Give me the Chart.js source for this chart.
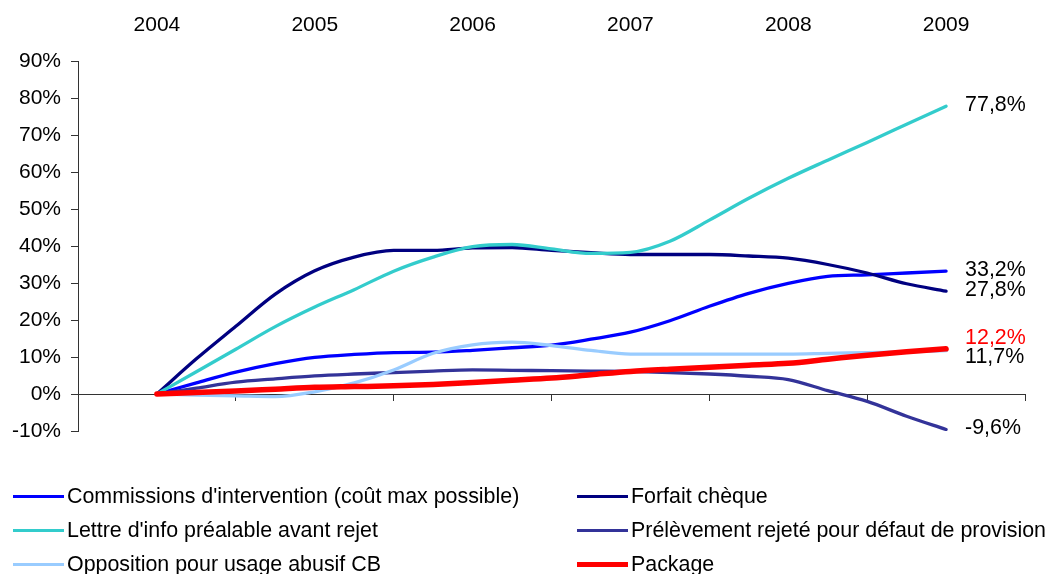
<!DOCTYPE html>
<html><head><meta charset="utf-8">
<script src="https://cdn.jsdelivr.net/npm/chart.js@4/dist/chart.umd.min.js"></script>
<style>
html,body{margin:0;padding:0;background:#fff;}
#wrap{position:relative;width:1053px;height:574px;overflow:hidden;font-family:"Liberation Sans",Arial,sans-serif;}
#c{position:absolute;left:0;top:0;}
.lg{position:absolute;font-size:21.4px;color:#000;white-space:nowrap;height:24px;line-height:24px;}
.lg .sw{position:absolute;left:0;width:51px;}
.lg .tx{position:absolute;left:54px;top:0;}
</style>
</head><body>
<div id="wrap"><canvas id="c" width="1053" height="574"></canvas><div id="legend"></div></div>
<script>
// ---- data (values in %) ----
const yearLabels = ['2004','2005','2006','2007','2008','2009'];
const years = [2004, 2005, 2006, 2007, 2008, 2009];
const quarters = [2004, 2004.25, 2004.5, 2004.75, 2005, 2005.25, 2005.5, 2005.75, 2006, 2006.25, 2006.5, 2006.75, 2007, 2007.25, 2007.5, 2007.75, 2008, 2008.25, 2008.5, 2008.75, 2009];
const seriesNames = [
  "Commissions d'intervention (coût max possible)",
  "Forfait chèque",
  "Lettre d'info préalable avant rejet",
  "Prélèvement rejeté pour défaut de provision",
  "Opposition pour usage abusif CB",
  "Package"
];
const commissions = [0, 3, 5.9, 8.2, 9.9, 10.7, 11.2, 11.3, 11.8, 12.5, 13.2, 14.8, 16.7, 19.8, 23.7, 27.2, 29.9, 31.8, 32.2, 32.7, 33.2];
const forfaitCheque = [0, 9.5, 18.3, 27, 33.3, 37, 38.8, 38.8, 39.5, 39.6, 38.8, 38.2, 37.7, 37.7, 37.7, 37.3, 36.7, 35, 32.7, 29.8, 27.8];
const lettreInfo = [0, 6, 12.1, 18.2, 23.5, 28.2, 33.2, 37, 39.8, 40.4, 39.2, 38, 38.3, 41.3, 47, 52.9, 58.3, 63.2, 68, 72.9, 77.8];
const prelevement = [0, 1.6, 3.2, 4.1, 4.9, 5.4, 5.8, 6.2, 6.5, 6.4, 6.3, 6.2, 6.1, 5.8, 5.4, 4.8, 3.9, 0.9, -2, -6, -9.6];
const opposition = [0, -0.3, -0.5, -0.7, 0.6, 3, 6.5, 11, 13.3, 14, 13.1, 11.8, 10.8, 10.8, 10.8, 10.8, 10.8, 11, 11.2, 11.4, 11.7];
const packageVals = [0, 0.4, 0.8, 1.3, 1.8, 2.0, 2.2, 2.6, 3.1, 3.7, 4.3, 5.2, 6.1, 6.7, 7.2, 7.8, 8.3, 9.4, 10.5, 11.4, 12.2];

const allSeries = [commissions, forfaitCheque, lettreInfo, prelevement, opposition, packageVals];
const colors = ['#0000FF', '#000080', '#33CCCC', '#333399', '#99CCFF', '#FF0000'];
const widths = [3.3, 3.3, 3.3, 3.3, 3.3, 5.5];
const labelColors = ['#000', '#000', '#000', '#000', '#000', '#FF0000'];
const labelDy = [-1, -1, -1, -1, 6, -11];

const FONT = '"Liberation Sans", Arial, sans-serif';
const datasets = allSeries.map((vals, i) => ({
  label: seriesNames[i],
  data: vals.map((v, k) => ({x: quarters[k], y: v})),
  borderColor: colors[i],
  backgroundColor: colors[i],
  borderWidth: widths[i],
  pointRadius: 0,
  fill: false,
  cubicInterpolationMode: 'monotone',
  borderCapStyle: 'round',
  borderJoinStyle: 'round',
  order: allSeries.length - i,
  labelColor: labelColors[i],
  labelDy: labelDy[i]
}));

const endLabels = {
  id: 'endLabels',
  afterDatasetsDraw(chart) {
    const ctx = chart.ctx;
    ctx.save();
    ctx.font = '21.4px ' + FONT;
    ctx.textBaseline = 'middle';
    ctx.textAlign = 'left';
    chart.data.datasets.forEach((ds, i) => {
      const meta = chart.getDatasetMeta(i);
      const pt = meta.data[meta.data.length - 1];
      const v = ds.data[ds.data.length - 1].y;
      ctx.fillStyle = ds.labelColor;
      ctx.fillText(v.toFixed(1).replace('.', ',') + '%', pt.x + 19, pt.y + ds.labelDy);
    });
    ctx.restore();
  }
};

const halfTicks = years.map(y => y - 0.5).concat([years[years.length - 1] + 0.5]);

const chart = new Chart(document.getElementById('c'), {
  type: 'line',
  data: { datasets },
  plugins: [endLabels],
  options: {
    responsive: false,
    devicePixelRatio: 1,
    animation: false,
    layout: { padding: { left: 0, right: 28, top: 0, bottom: 143 } },
    plugins: { legend: { display: false }, tooltip: { enabled: false } },
    scales: {
      x: {
        type: 'linear',
        position: 'top',
        min: halfTicks[0],
        max: halfTicks[halfTicks.length - 1],
        afterBuildTicks: s => { s.ticks = years.map(v => ({value: v})); },
        afterFit: s => { s.height = 61; },
        grid: { display: false, drawTicks: false },
        border: { display: false },
        ticks: {
          padding: 23,
          maxRotation: 0,
          color: '#000',
          font: { family: FONT, size: 21 },
          callback: v => yearLabels[years.indexOf(v)]
        }
      },
      x2: {
        type: 'linear',
        display: true,
        position: { y: 0 },
        min: halfTicks[0],
        max: halfTicks[halfTicks.length - 1],
        afterBuildTicks: s => { s.ticks = halfTicks.map(v => ({value: v})); },
        grid: { drawOnChartArea: false, drawTicks: true, tickLength: 6, color: '#333', lineWidth: 1 },
        border: { display: true, color: '#333', width: 1 },
        ticks: { display: false }
      },
      y: {
        type: 'linear',
        position: 'left',
        min: -10,
        max: 90,
        afterFit: s => { s.width = 78; },
        ticks: {
          stepSize: 10,
          padding: 10,
          color: '#000',
          font: { family: FONT, size: 21 },
          callback: v => v + '%'
        },
        grid: { drawOnChartArea: false, drawTicks: true, tickLength: 7, color: '#333' },
        border: { display: true, color: '#333', width: 1 }
      }
    }
  }
});

// HTML legend (two columns, row-wise order)
const legendEl = document.getElementById('legend');
const colX = [13, 577];
const rowY = [496, 530, 564];
seriesNames.forEach((name, i) => {
  const col = i % 2, row = Math.floor(i / 2);
  const d = document.createElement('div');
  d.className = 'lg';
  d.style.left = colX[col] + 'px';
  d.style.top = (rowY[row] - 12) + 'px';
  const sw = document.createElement('div');
  sw.className = 'sw';
  const h = widths[i] > 4 ? 5 : 3;
  sw.style.height = h + 'px';
  sw.style.top = (12 - h / 2) + 'px';
  sw.style.background = colors[i];
  const tx = document.createElement('span');
  tx.className = 'tx';
  tx.textContent = name;
  d.appendChild(sw); d.appendChild(tx);
  legendEl.appendChild(d);
});
</script>
</body></html>
